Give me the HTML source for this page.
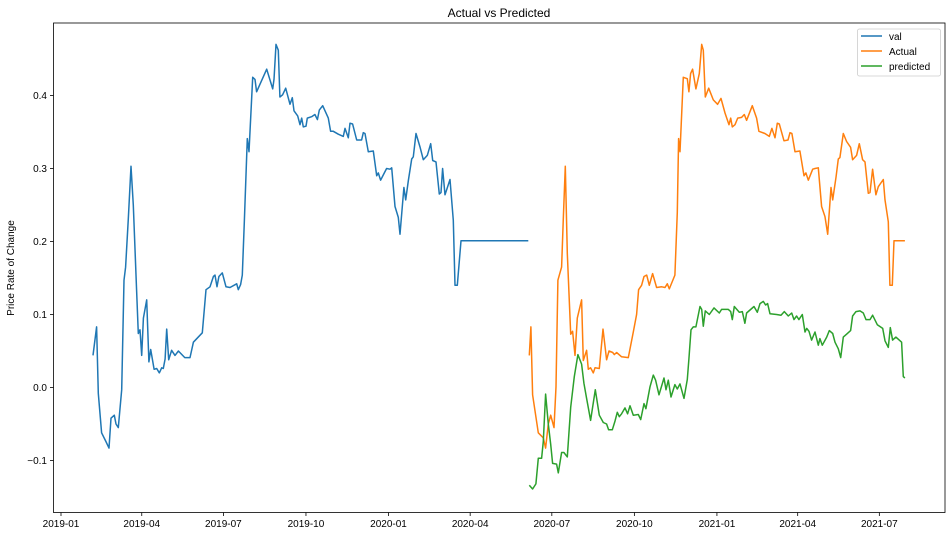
<!DOCTYPE html>
<html><head><meta charset="utf-8"><style>
body{margin:0;background:#fff;}
svg text{font-family:"Liberation Sans","DejaVu Sans",sans-serif;}
</style></head><body>
<svg id="chart" width="952" height="536" xmlns="http://www.w3.org/2000/svg">
<text x="499" y="17" font-size="12" text-anchor="middle">Actual vs Predicted</text>
<text transform="translate(14,268) rotate(-90)" font-size="10" text-anchor="middle">Price Rate of Change</text>
<g id="axes"></g>
<g id="series"></g>
<rect x="53.5" y="23" width="891.5" height="489.5" fill="none" stroke="#000" stroke-width="0.8"/>
<g>
<rect x="857.5" y="29" width="83" height="47" rx="2" fill="#fff" stroke="#ccc" stroke-width="0.8"/>
<g><line x1="861" y1="36" x2="882" y2="36" stroke="#1f77b4" stroke-width="1.5"/><text x="889" y="40" font-size="10">val</text></g>
<g><line x1="861" y1="51" x2="882" y2="51" stroke="#ff7f0e" stroke-width="1.5"/><text x="889" y="55" font-size="10">Actual</text></g>
<g><line x1="861" y1="66" x2="882" y2="66" stroke="#2ca02c" stroke-width="1.5"/><text x="889" y="70" font-size="10">predicted</text></g>
</g>
</svg>
<script>
// days since 2019-01-01
const xTickDays=[0,90,181,273,365,456,547,639,731,821,912];
const xTickLabels=["2019-01","2019-04","2019-07","2019-10","2020-01","2020-04","2020-07","2020-10","2021-01","2021-04","2021-07"];
const yTicks=[-0.1,0.0,0.1,0.2,0.3,0.4];
const yTickLabels=["\u22120.1","0.0","0.1","0.2","0.3","0.4"];

const valDays=[35.7,39.7,41.6,45.3,50,53.5,55.7,59.4,61.3,63.9,67.6,70.2,72,75,78,80.6,84.3,86.2,88,89.9,91.8,95.5,98,100,103.7,106.6,109.6,112.2,114,116,117.8,120,123.3,127,130.8,138,143.8,147.5,157.5,161.6,166,169.8,171.6,173.8,176,179.8,183.9,188.3,195.8,197.6,200.2,202,204.3,207.6,209.5,213.6,216.2,218,229.2,235.9,237.4,239.6,242.2,244,247,250.4,255.2,257.8,259.7,263.8,266.3,268.2,270,273,274.5,279.3,283,285.7,287.9,291.6,297.9,300.5,303.5,309,314.6,316.5,320.2,322.1,325,329.5,335,336.9,338.8,342.5,348,351.8,353.6,356.2,362.9,366.6,368.5,372.2,375.9,377.8,382.2,384.1,387,390.8,392.6,395.6,400,403.8,408.2,412,414.2,417.9,421.6,423.5,425.3,428,433.5,437.2,439.1,441.7,445.8,467,520.8];
const valValues=[.044,.083,-.008,-.062,-.074,-.083,-.042,-.038,-.05,-.055,-.003,.147,.165,.231,.303,.25,.133,.074,.079,.044,.095,.12,.035,.052,.025,.026,.02,.027,.026,.039,.08,.038,.051,.044,.05,.041,.041,.062,.075,.134,.138,.152,.154,.138,.152,.157,.138,.137,.142,.134,.141,.154,.226,.341,.323,.425,.422,.405,.436,.409,.422,.47,.462,.398,.401,.41,.388,.397,.379,.372,.36,.369,.357,.358,.369,.371,.374,.367,.38,.386,.369,.351,.351,.347,.344,.355,.342,.362,.361,.339,.339,.349,.348,.323,.324,.29,.294,.284,.3,.299,.301,.248,.233,.21,.274,.257,.283,.313,.316,.348,.33,.312,.318,.334,.311,.309,.265,.267,.3,.264,.285,.229,.14,.14,.201,.201,.201];

const actualDays=[521.9,523.7,525.6,531.9,537.5,540.1,543.1,545.7,549.4,551.6,553.8,557.9,559.8,562,564.2,568,570.2,572.8,575.4,580.2,582.1,585.8,587.6,590.2,593.2,595.1,599.9,604,608.1,610.7,614.8,616.6,619.2,624.8,632.2,637.8,641.5,643.7,647.1,649.7,652.7,655.6,659.3,663.8,669.4,673.1,675.7,677.9,684.2,686.8,688.3,689.8,693.5,698,699.8,701.7,703.9,707.6,711.4,714,715.8,718,721.8,727,731.8,735.5,740,744.4,746.3,748.1,751.1,754.1,758.5,761.5,764.1,770.4,775.2,777.8,784.5,789.4,792.3,795.7,798.3,800.5,805.7,810.2,812.4,814.6,818,823.5,828,830.2,832.8,837.7,840.3,844,847.7,851.4,854.4,858.1,860,863.7,866.3,868.1,871.8,875.5,880,882.2,886.7,889.7,893.4,896,899.7,901.6,904.5,908.2,910.8,916.4,918.3,922,923.8,926.4,928.3,940.5];
const actualValues=[.044,.083,-.01,-.062,-.069,-.083,-.05,-.038,-.055,.001,.147,.165,.231,.303,.184,.073,.077,.044,.095,.12,.037,.051,.025,.027,.02,.027,.026,.08,.038,.05,.048,.045,.048,.042,.041,.076,.1,.134,.14,.152,.154,.14,.156,.137,.138,.137,.142,.135,.154,.24,.341,.323,.425,.423,.405,.43,.436,.409,.43,.47,.462,.398,.41,.394,.388,.396,.376,.36,.369,.357,.36,.369,.37,.374,.366,.386,.369,.351,.348,.344,.355,.342,.362,.361,.338,.339,.349,.348,.323,.324,.29,.294,.284,.299,.3,.301,.248,.234,.21,.274,.257,.288,.313,.315,.348,.337,.329,.312,.318,.334,.312,.309,.266,.267,.299,.264,.275,.285,.257,.227,.14,.14,.201,.201];

const predDays=[521.9,525.6,529.3,531.9,535.6,537.5,540.1,543.1,545.7,547.9,552.3,554.2,557.9,560.5,564.2,568,572,576.1,580.2,582.8,585.8,590.2,595.4,599.9,604.4,608.1,610.3,614.4,617.4,620,622.2,624.8,628.5,631.5,634.1,637.8,643.4,646,649.7,651.9,656.4,660.1,662.7,666.4,672,674.2,676.8,679.8,684.2,686.8,689.8,694.3,698,699.8,702.1,704.7,707.6,712.1,714,715.8,718,722.5,727.7,733.6,736.2,743.7,746.3,748.1,750.4,755.9,759.3,762.2,764.1,772.3,776,779,782.7,785.3,787.5,790.1,797.5,802.4,806.1,810.5,814.3,816.9,819.8,822.4,826.1,829.1,831,833.6,836.5,840.3,844,845.8,848.4,853.3,856.2,860,862.6,866.3,868.9,871.8,875.5,880,882.2,886,890.4,894.1,897.1,901.6,904.5,909.7,915.7,918.3,922,924.2,926.8,930.5,936.8,938.7,940.5];
const predValues=[-.134,-.139,-.132,-.097,-.097,-.074,-.009,-.05,-.078,-.104,-.105,-.117,-.089,-.089,-.095,-.027,.015,.045,.032,.006,-.015,-.045,-.003,-.038,-.048,-.05,-.058,-.058,-.046,-.034,-.04,-.036,-.028,-.036,-.025,-.038,-.037,-.044,-.022,-.029,.001,.017,.01,-.01,.013,-.003,.01,-.013,.004,-.002,.005,-.015,.011,.039,.079,.083,.083,.111,.107,.084,.105,.1,.109,.102,.107,.107,.104,.093,.111,.103,.104,.088,.102,.111,.103,.115,.118,.113,.115,.101,.1,.099,.104,.098,.102,.093,.098,.093,.1,.076,.081,.077,.065,.076,.058,.067,.058,.069,.078,.074,.062,.053,.041,.069,.073,.078,.098,.104,.105,.102,.093,.093,.099,.086,.081,.064,.055,.082,.065,.069,.062,.015,.013];

const NS="http://www.w3.org/2000/svg";
function xS(d){return 61+d*0.8973;}
function yS(v){return 387.5-v*730;}
const axes=document.getElementById('axes');
xTickDays.forEach((d,i)=>{
  const t=document.createElementNS(NS,'line');
  t.setAttribute('x1',xS(d));t.setAttribute('x2',xS(d));t.setAttribute('y1',512.5);t.setAttribute('y2',516);
  t.setAttribute('stroke','#000');t.setAttribute('stroke-width','0.8');
  
  
  axes.appendChild(t);
  const l=document.createElementNS(NS,'text');
  l.setAttribute('x',xS(d));l.setAttribute('y',527);l.setAttribute('font-size','10');l.setAttribute('text-anchor','middle');
  l.textContent=xTickLabels[i];
  
  
  axes.appendChild(l);
});
yTicks.forEach((v,i)=>{
  const t=document.createElementNS(NS,'line');
  t.setAttribute('x1',50);t.setAttribute('x2',53.5);t.setAttribute('y1',yS(v));t.setAttribute('y2',yS(v));
  t.setAttribute('stroke','#000');t.setAttribute('stroke-width','0.8');
  
  
  axes.appendChild(t);
  const l=document.createElementNS(NS,'text');
  l.setAttribute('x',47);l.setAttribute('y',yS(v)+3.5);l.setAttribute('font-size','10');l.setAttribute('text-anchor','end');
  l.textContent=yTickLabels[i];
  
  
  axes.appendChild(l);
});
const series=document.getElementById('series');
function drawLine(days,vals,color,name){
  const p=document.createElementNS(NS,'polyline');
  p.setAttribute('points',days.map((d,i)=>xS(d).toFixed(1)+','+yS(vals[i]).toFixed(1)).join(' '));
  p.setAttribute('fill','none');p.setAttribute('stroke',color);p.setAttribute('stroke-width','1.5');p.setAttribute('stroke-linejoin','round');
  
  
  series.appendChild(p);
}
drawLine(valDays,valValues,'#1f77b4','val-line');
drawLine(actualDays,actualValues,'#ff7f0e','actual-line');
drawLine(predDays,predValues,'#2ca02c','predicted-line');
</script>
</body></html>
